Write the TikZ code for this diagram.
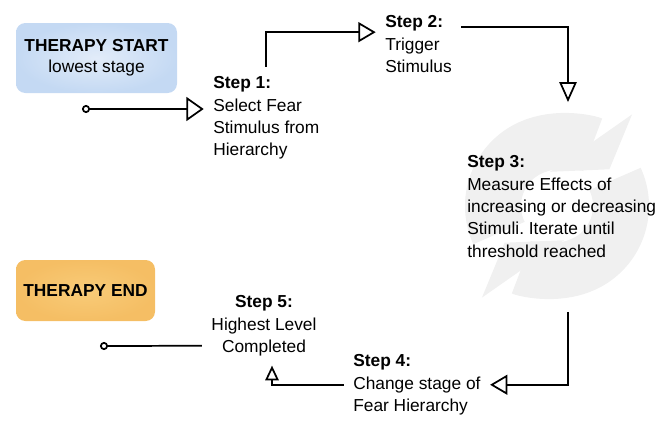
\documentclass[tikz,border=0pt]{standalone}
\usepackage{fontspec}
\setmainfont{Liberation Sans}
\usepackage{xcolor}
\usetikzlibrary{arrows.meta,positioning,calc}
\definecolor{startin}{RGB}{226,236,249}
\definecolor{startout}{RGB}{196,217,243}
\definecolor{endin}{RGB}{248,203,120}
\definecolor{endout}{RGB}{245,190,100}
\definecolor{cyclegray}{RGB}{240,240,240}
\frenchspacing

\begin{document}
\begin{tikzpicture}[x=0.75pt,y=-0.75pt,
    font=\fontsize{13}{16.8}\selectfont,
    box/.style={rounded corners=7pt,align=center,font=\fontsize{13}{15.8}\selectfont},
    stepnode/.style={align=left,inner sep=7pt},
    flow/.style={line width=1.3pt,-{Triangle[open,length=13pt,width=15pt]}}]
  \useasboundingbox (0,0) rectangle (667,426);
  % faint cycle icon behind step 3
  \coordinate (cycmid) at (557,206);
  \node[circle,minimum size=157pt,inner sep=0pt] (cyc) at (568,207) {};
  \draw[cyclegray,line width=42pt,-{Triangle[length=24pt,width=74pt]}]
    ($(cycmid)+(-205:64)$) arc[start angle=-205,end angle=-35,radius=64];
  \draw[cyclegray,line width=42pt,-{Triangle[length=24pt,width=74pt]}]
    ($(cycmid)+(-25:64)$) arc[start angle=-25,end angle=145,radius=64];

  \node[box,minimum width=120.75pt,minimum height=52.5pt,inner color=startin,outer color=startout] (start) at (96.5,58) {\textbf{THERAPY START}\\lowest stage};
  \node[box,minimum width=104.25pt,minimum height=45.75pt,inner color=endin,outer color=endout] (stop) at (85.5,290.5) {\textbf{THERAPY END}};

  \node[stepnode,anchor=north west] (s1) at (203.7,66.9) {\textbf{Step 1:}\\Select Fear\\Stimulus from\\Hierarchy};
  \node[stepnode,anchor=north west] (s2) at (375.7,5.9) {\textbf{Step 2:}\\Trigger\\Stimulus};
  \node[stepnode,anchor=north west] (s3) at (457.7,145.9) {\textbf{Step 3:}\\Measure Effects of\\increasing or decreasing\\Stimuli. Iterate until\\threshold reached};
  \node[stepnode,anchor=north west] (s4) at (343.7,344.9) {\textbf{Step 4:}\\Change stage of\\Fear Hierarchy};
  \node[stepnode,align=center,anchor=north] (s5) at (264,285.9) {\textbf{Step 5:}\\Highest Level\\Completed};

  \coordinate (startdot) at (82,109);
  \coordinate (enddot) at (100,346);

  \draw[flow,{Circle[open,length=6pt]}-{Triangle[open,length=13pt,width=18pt]}] (startdot) -- (startdot -| s1.west);
  \draw[flow] (s1.north) |- ([yshift=8.9pt]s2.west);
  \draw[flow,-{Triangle[open,length=15pt,width=13pt]}] ([yshift=12.6pt]s2.east) -| (cyc.north);
  \draw[flow] (cyc.south) |- (s4.east);
  \draw[flow,-{Triangle[open,length=11pt,width=10pt]}] (s4.west) -| ([xshift=6pt]s5.south);
  \draw[line width=1.3pt,-{Circle[open,length=6pt]}] ([yshift=-15pt]s5.west) -- (enddot);
\end{tikzpicture}
\end{document}
